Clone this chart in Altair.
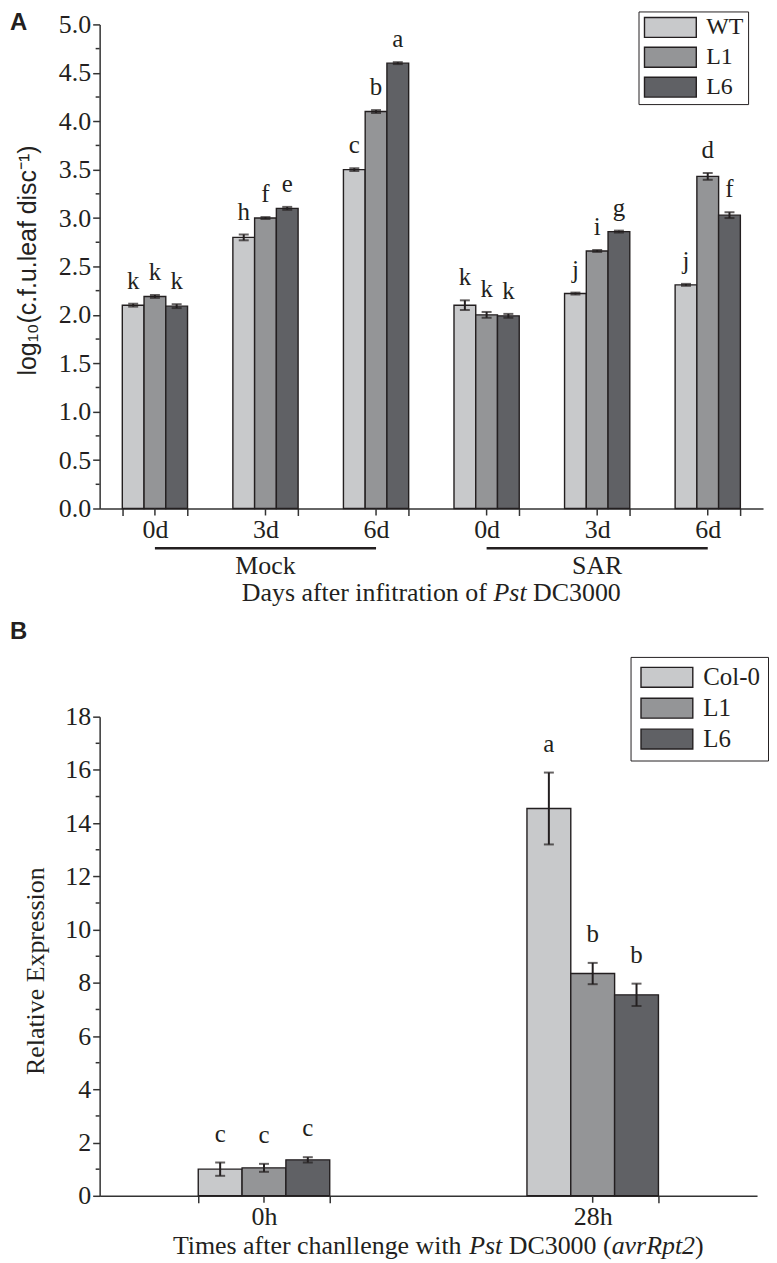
import altair as alt
import pandas as pd

# ---------------- Panel A data ----------------
cats_a = ["Mock 0d", "Mock 3d", "Mock 6d", "SAR 0d", "SAR 3d", "SAR 6d"]
geno_a = ["WT", "L1", "L6"]
wt_a = [2.10, 2.80, 3.50, 2.10, 2.22, 2.31]
l1_a = [2.19, 3.00, 4.10, 2.00, 2.66, 3.43]
l6_a = [2.09, 3.10, 4.60, 1.99, 2.86, 3.03]
wt_err_a = [0.015, 0.03, 0.015, 0.05, 0.01, 0.01]
l1_err_a = [0.015, 0.01, 0.015, 0.03, 0.01, 0.035]
l6_err_a = [0.02, 0.015, 0.01, 0.02, 0.01, 0.03]
wt_let_a = ["k", "h", "c", "k", "j", "j"]
l1_let_a = ["k", "f", "b", "k", "i", "d"]
l6_let_a = ["k", "e", "a", "k", "g", "f"]
yticks_a = [0.0, 0.5, 1.0, 1.5, 2.0, 2.5, 3.0, 3.5, 4.0, 4.5, 5.0]
yminor_a = [0.25, 0.75, 1.25, 1.75, 2.25, 2.75, 3.25, 3.75, 4.25, 4.75]
groups_a = ["Mock", "SAR"]
group_start_a = ["Mock 0d", "SAR 0d"]
group_mid_a = ["Mock 3d", "SAR 3d"]
group_end_a = ["Mock 6d", "SAR 6d"]

# ---------------- Panel B data ----------------
cats_b = ["0h", "28h"]
geno_b = ["Col-0", "L1", "L6"]
col0_b = [1.00, 14.55]
l1_b = [1.05, 8.35]
l6_b = [1.35, 7.55]
col0_err_b = [0.25, 1.35]
l1_err_b = [0.15, 0.40]
l6_err_b = [0.10, 0.42]
col0_let_b = ["c", "a"]
l1_let_b = ["c", "b"]
l6_let_b = ["c", "b"]
yticks_b = [0, 2, 4, 6, 8, 10, 12, 14, 16, 18]
yminor_b = [1, 3, 5, 7, 9, 11, 13, 15, 17]

FILLS = ["#c8c9cb", "#949597", "#606165"]
INK = "#231f20"
AXC = "#333333"
SERIF = "Liberation Serif"
SANS = "Liberation Sans"


def build_df(cats, genos, vals, errs, lets):
    rows = []
    for g, v, e, l in zip(genos, vals, errs, lets):
        for c, vv, ee, ll in zip(cats, v, e, l):
            rows.append({"cat": c, "geno": g, "value": vv, "lo": vv - ee,
                         "hi": vv + ee, "letter": ll})
    return pd.DataFrame(rows)


df_a = build_df(cats_a, geno_a, [wt_a, l1_a, l6_a],
                [wt_err_a, l1_err_a, l6_err_a], [wt_let_a, l1_let_a, l6_let_a])
df_b = build_df(cats_b, geno_b, [col0_b, l1_b, l6_b],
                [col0_err_b, l1_err_b, l6_err_b], [col0_let_b, l1_let_b, l6_let_b])

one = pd.DataFrame({"k": [0]})


def panel(df, cats, genos, ydom, yticks, yminor, yfmt, W, H, pad_in,
          legend_kw, letter_dy, letter_size, label_expr):
    xaxis = alt.Axis(title=None, labelExpr=label_expr, tickBand="extent",
                     tickSize=7, tickWidth=1.5, tickColor=AXC,
                     domainColor=AXC, domainWidth=1.5, labelAngle=0,
                     labelFont=SERIF, labelFontSize=26, labelColor=INK,
                     labelPadding=1, grid=False)
    xs = alt.X("cat:N", sort=cats, title=None,
               scale=alt.Scale(paddingInner=pad_in, paddingOuter=pad_in / 2),
               axis=xaxis)
    xs_plain = alt.X("cat:N", sort=cats, title=None)
    xo = alt.XOffset("geno:N", sort=genos,
                     scale=alt.Scale(domain=genos, paddingInner=0, paddingOuter=0))
    yaxis = alt.Axis(title=None, values=yticks, format=yfmt, tickSize=7,
                     tickWidth=1.5, tickColor=AXC, domainColor=AXC,
                     domainWidth=1.5, labelFont=SERIF, labelFontSize=26,
                     labelColor=INK, labelPadding=2, grid=False)
    ys = alt.Y("value:Q", scale=alt.Scale(domain=ydom, nice=False, zero=True),
               axis=yaxis)
    base = alt.Chart(df)
    bars = base.mark_bar(stroke=INK, strokeWidth=1.4).encode(
        x=xs, xOffset=xo, y=ys,
        color=alt.Color("geno:N", sort=genos,
                        scale=alt.Scale(domain=genos, range=FILLS),
                        legend=alt.Legend(**legend_kw)))
    err = base.mark_rule(color=INK, strokeWidth=2).encode(
        x=xs_plain, xOffset=xo, y=alt.Y("lo:Q", title=None), y2="hi:Q")
    cap_lo = base.mark_tick(color=INK, thickness=2, size=10,
                            orient="horizontal").encode(
        x=xs_plain, xOffset=xo, y=alt.Y("lo:Q", title=None))
    cap_hi = base.mark_tick(color=INK, thickness=2, size=10,
                            orient="horizontal").encode(
        x=xs_plain, xOffset=xo, y=alt.Y("hi:Q", title=None))
    letters = base.mark_text(dy=-letter_dy, baseline="alphabetic",
                             font=SERIF, fontSize=letter_size,
                             color=INK).encode(
        x=xs_plain, xOffset=xo, y=alt.Y("hi:Q", title=None), text="letter:N")
    minor = alt.Chart(pd.DataFrame({"v": yminor})).mark_rule(
        color=AXC, strokeWidth=1.5).encode(
        y=alt.Y("v:Q", title=None), x=alt.value(-4), x2=alt.value(0))
    centers = alt.Chart(pd.DataFrame({"cat": cats})).mark_rule(
        color=AXC, strokeWidth=1.5).encode(
        x=xs_plain, y=alt.value(H), y2=alt.value(H + 7))
    return [bars, err, cap_lo, cap_hi, letters, minor, centers]


def text_at(txt, x, y, size=26, font=SERIF, style="normal", weight="normal",
            align="left", angle=0):
    return alt.Chart(one).mark_text(
        text=txt, font=font, fontSize=size, fontStyle=style, fontWeight=weight,
        align=align, baseline="middle", angle=angle, color=INK).encode(
        x=alt.value(x), y=alt.value(y))


SYM = "M-1,-1L4.2,-1L4.2,1L-1,1Z"

# ---------------- Panel A ----------------
WA, HA = 666, 486
leg_a = dict(title=None, orient="none", legendX=541, legendY=-13,
             symbolType=SYM, symbolSize=400, symbolStrokeColor=INK,
             symbolStrokeWidth=1.4, symbolOpacity=1,
             labelFont=SERIF, labelFontSize=24, labelColor=INK,
             labelOffset=40, rowPadding=4, padding=4, strokeColor=INK)
layers_a = panel(df_a, cats_a, geno_a, [0, 5], yticks_a, yminor_a, ".1f",
                 WA, HA, 0.41, leg_a, 15, 25, "split(datum.label, ' ')[1]")

df_g = pd.DataFrame({"group": groups_a, "start": group_start_a,
                     "mid": group_mid_a, "end": group_end_a})
grp_line = alt.Chart(df_g).mark_rule(color=INK, strokeWidth=2.5).encode(
    x=alt.X("start:N", sort=cats_a, title=None), x2="end:N",
    y=alt.value(HA + 40))
grp_text = alt.Chart(df_g).mark_text(font=SERIF, fontSize=26, color=INK,
                                     baseline="middle").encode(
    x=alt.X("mid:N", sort=cats_a, title=None), y=alt.value(HA + 58),
    text="group:N")

fs = 26
tot = 9.72 + 1.278 + 0.25 + 3.389
x0 = WA / 2 - tot * fs / 2
ty = HA + 85
title_a = [
    text_at("Days after infitration of", x0, ty),
    text_at("Pst", x0 + 9.72 * fs, ty, style="italic"),
    text_at("DC3000", x0 + (9.72 + 1.278 + 0.25) * fs, ty),
]
ytitle_a = text_at("log\u2081\u2080(c.f.u.leaf disc\u207b\u00b9)", -72, HA / 2 - 6,
                   size=25, font=SANS, align="center", angle=270)
lab_a = text_at("A", -90, -1, size=24, font=SANS, weight="bold")

panel_a = alt.layer(*layers_a, grp_line, grp_text, *title_a, ytitle_a,
                    lab_a).properties(width=WA, height=HA)

# ---------------- Panel B ----------------
WB, HB = 660, 481
leg_b = dict(title=None, orient="none", legendX=533, legendY=-60,
             symbolType=SYM, symbolSize=400, symbolStrokeColor=INK,
             symbolStrokeWidth=1.4, symbolOpacity=1,
             labelFont=SERIF, labelFontSize=25, labelColor=INK,
             labelOffset=40, rowPadding=4, padding=8, strokeColor=INK)
layers_b = panel(df_b, cats_b, geno_b, [0, 18], yticks_b, yminor_b, "d",
                 WB, HB, 0.6, leg_b, 21, 25, "datum.label")

tot_b = 11.442 + 1.278 + 0.25 + 3.972 + 3.222 + 0.333
xb = 340 - tot_b * fs / 2
tyb = HB + 50
title_b = [
    text_at("Times after chanllenge with", xb, tyb),
    text_at("Pst", xb + 11.442 * fs, tyb, style="italic"),
    text_at("DC3000 (", xb + (11.442 + 1.278 + 0.25) * fs, tyb),
    text_at("avrRpt2", xb + (11.442 + 1.278 + 0.25 + 3.972) * fs, tyb,
            style="italic"),
    text_at(")", xb + (11.442 + 1.278 + 0.25 + 3.972 + 3.222) * fs, tyb),
]
ytitle_b = text_at("Relative Expression", -64, HB / 2 + 15, size=26,
                   align="center", angle=270)
lab_b = text_at("B", -90, -85, size=24, font=SANS, weight="bold")

panel_b = alt.layer(*layers_b, *title_b, ytitle_b, lab_b).properties(
    width=WB, height=HB)

chart = alt.vconcat(panel_a, panel_b, spacing=14).resolve_scale(
    x="independent", y="independent", color="independent",
    xOffset="independent").properties(
    padding={"left": 2, "top": 0, "right": 0, "bottom": 0}
).configure_view(stroke=None)

chart.save("out.html", embed_options={"renderer": "svg", "actions": False})
